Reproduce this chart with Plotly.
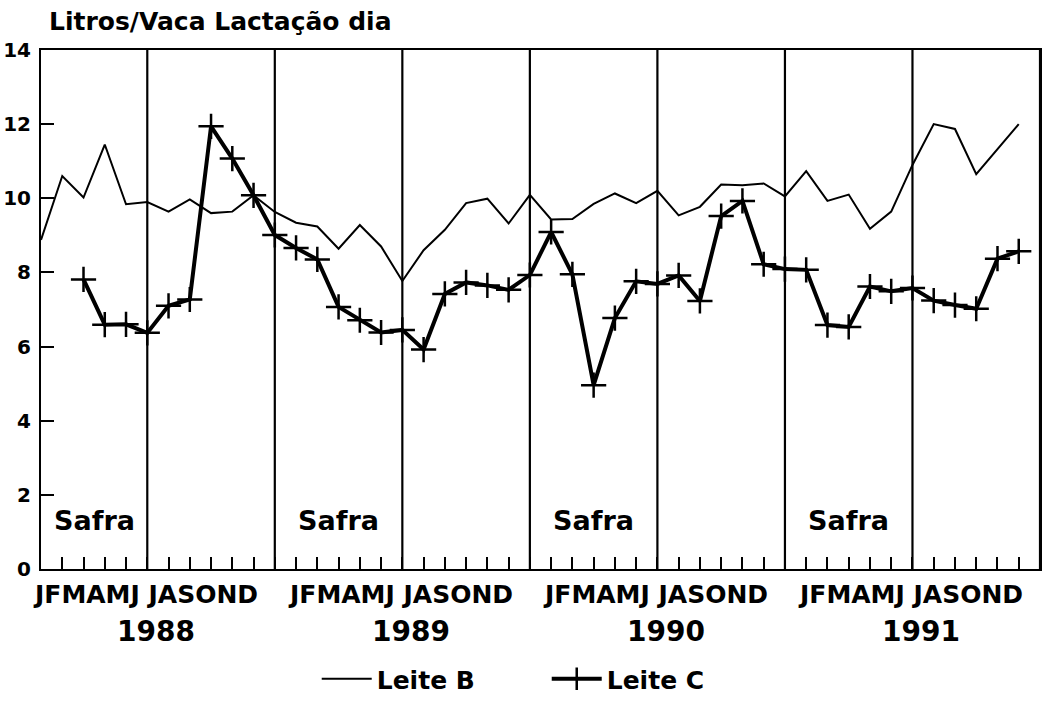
import plotly.graph_objects as go

years = [1988, 1989, 1990, 1991]
month_letters = ["J", "F", "M", "A", "M", "J", "J", "A", "S", "O", "N", "D"]

leite_b = [
    8.88, 10.6, 10.02, 11.45, 9.84, 9.9, 9.64, 9.97, 9.6, 9.64, 10.08, 9.63,
    9.34, 9.24, 8.64, 9.28, 8.7, 7.77, 8.6, 9.15, 9.87, 9.99, 9.32, 10.09,
    9.43, 9.44, 9.85, 10.13, 9.87, 10.2, 9.54, 9.77, 10.37, 10.35, 10.4, 10.05,
    10.73, 9.93, 10.1, 9.18, 9.64, 10.9, 12.0, 11.87, 10.65, 11.33, 12.0, None,
]
leite_c = [
    None, None, 7.81, 6.59, 6.6, 6.37, 7.1, 7.27, 11.94, 11.07, 10.08, 9.01,
    8.66, 8.35, 7.07, 6.71, 6.38, 6.45, 5.92, 7.42, 7.73, 7.65, 7.53, 7.93,
    9.09, 7.95, 4.96, 6.77, 7.76, 7.69, 7.92, 7.23, 9.52, 9.93, 8.22, 8.09,
    8.07, 6.58, 6.53, 7.62, 7.49, 7.58, 7.24, 7.12, 7.02, 8.37, 8.57, None,
]
y_ticks = [0, 2, 4, 6, 8, 10, 12, 14]
title_text = "Litros/Vaca Lactação dia"
safra_text = "Safra"
series_names = ["Leite B", "Leite C"]

n_months = len(years) * 12
x = list(range(n_months))

FONT = "DejaVu Sans"
BLACK = "black"

fig = go.Figure()
fig.add_trace(go.Scatter(
    x=x, y=leite_b, mode="lines", name=series_names[0],
    line=dict(color=BLACK, width=2), connectgaps=False,
))
fig.add_trace(go.Scatter(
    x=x, y=leite_c, mode="lines+markers", name=series_names[1],
    line=dict(color=BLACK, width=4),
    marker=dict(symbol="cross-thin", size=18, color=BLACK,
                line=dict(color=BLACK, width=2.5)),
    connectgaps=False,
))

# vertical separators at June and December of each year
shapes = []
for i in x:
    if i % 12 in (5, 11):
        shapes.append(dict(type="line", xref="x", yref="y", x0=i, x1=i,
                           y0=y_ticks[0], y1=y_ticks[-1],
                           line=dict(color=BLACK, width=2.2)))

annotations = []
annotations.append(dict(text=title_text, xref="paper", yref="paper",
                        x=0.006, y=1.054, xanchor="left", yanchor="middle",
                        showarrow=False,
                        font=dict(family=FONT, size=25, color=BLACK, weight="bold")))
for k, yr in enumerate(years):
    start = k * 12
    jun = start + 5
    annotations.append(dict(text="".join(month_letters[:6]) + " " + "".join(month_letters[6:]),
                            xref="x", yref="paper", x=jun - 0.1, y=-0.05,
                            xanchor="center", yanchor="middle", showarrow=False,
                            font=dict(family=FONT, size=25, color=BLACK, weight="bold")))
    annotations.append(dict(text=str(yr), xref="x", yref="paper", x=jun + 0.4, y=-0.12,
                            xanchor="center", yanchor="middle", showarrow=False,
                            font=dict(family=FONT, size=28, color=BLACK, weight="bold")))
    s0 = max(0, jun - 6)
    annotations.append(dict(text=safra_text, xref="x", yref="y", x=(s0 + jun) / 2, y=1.3,
                            xanchor="center", yanchor="middle", showarrow=False,
                            font=dict(family=FONT, size=27, color=BLACK, weight="bold")))

fig.update_layout(
    width=1055, height=701,
    margin=dict(l=41, r=15, t=50, b=132, autoexpand=False),
    paper_bgcolor="white", plot_bgcolor="white",
    shapes=shapes, annotations=annotations,
    showlegend=True,
    legend=dict(orientation="h", x=0.276, xanchor="left", y=-0.212, yanchor="middle",
                font=dict(family=FONT, size=25, color=BLACK, weight="bold"),
                bgcolor="rgba(0,0,0,0)", entrywidth=165, entrywidthmode="pixels",
                itemwidth=50, tracegroupgap=0),
    font=dict(family=FONT, color=BLACK),
)
fig.update_xaxes(range=[0, n_months - 1], showgrid=False, zeroline=False, automargin=False,
                 showline=True, linecolor=BLACK, linewidth=2, mirror=True,
                 ticks="inside", tickvals=x, ticklen=12, tickwidth=2, tickcolor=BLACK,
                 showticklabels=False)
fig.update_yaxes(range=[y_ticks[0], y_ticks[-1]], showgrid=False, zeroline=False, automargin=False,
                 showline=True, linecolor=BLACK, linewidth=2, mirror=True,
                 ticks="inside", tickvals=y_ticks, ticklen=13, tickwidth=2, tickcolor=BLACK,
                 ticklabelstandoff=4,
                 tickfont=dict(family=FONT, size=20, color=BLACK, weight="bold"))

fig.write_html("out.html", config={"displayModeBar": False},
               post_script="document.body.style.margin='0';document.body.style.overflow='hidden';")
